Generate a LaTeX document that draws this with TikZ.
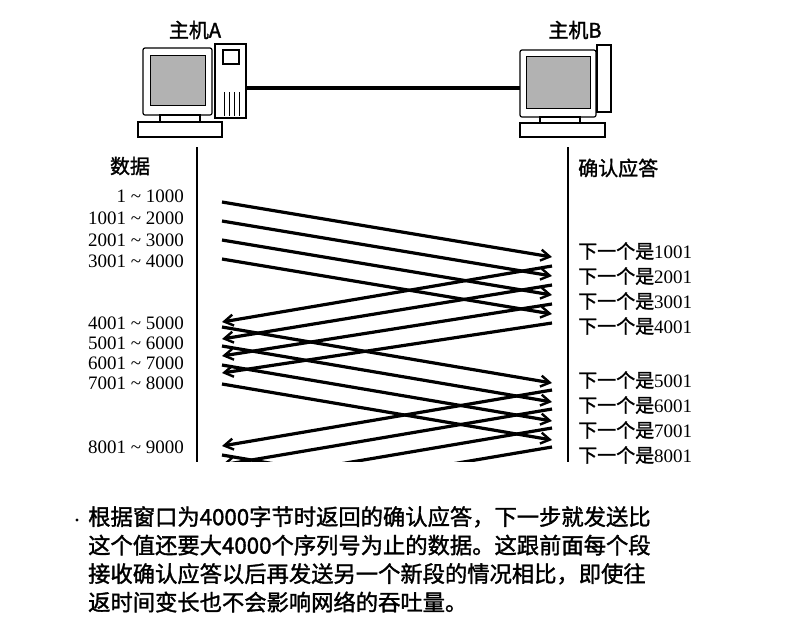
\documentclass[tikz,border=0pt]{standalone}
\usepackage{fontspec}
\setmainfont{Liberation Serif}
\newfontfamily\cjk[FakeBold=1.5]{Noto Sans CJK SC}
\usetikzlibrary{arrows.meta}
\begin{document}
\begin{tikzpicture}[x=1pt,y=-1pt,
  lbl/.style={font=\fontsize{19}{19}\selectfont, inner sep=0pt},
  ll/.style={lbl,anchor=east},
  rl/.style={lbl,anchor=west},
  msg/.style={line width=3.2pt,-{Straight Barb[length=9pt,width=11pt,line width=2.4pt]}},
  axis/.style={line width=2.5pt},
  pc/.style={draw,line width=1.2pt,fill=white}]
\useasboundingbox (0,0) rectangle (788,638);
% host A
\node[lbl,font=\cjk\fontsize{20}{20}\selectfont] (ta) at (195,30) {主机A};
\draw[pc,rounded corners=2pt] (143,48) rectangle (212,115);
\fill[gray!60,draw=black,line width=1pt] (150,55) rectangle (205,105);
\draw[pc] (215,44) rectangle (246,118);
\draw[pc] (223,50) rectangle (239,64);
\foreach \xx in {224,229,234,239} \draw[line width=0.8pt] (\xx,92)--(\xx,116);
\draw[pc] (160,115) rectangle (200,122);
\draw[pc] (138,122) rectangle (222,137);
\coordinate (aR) at (246,88);
% host B
\node[lbl,font=\cjk\fontsize{20}{20}\selectfont] (tb) at (575,30) {主机B};
\draw[pc,rounded corners=2pt] (520,50) rectangle (596,117);
\fill[gray!60,draw=black,line width=1pt] (526,56) rectangle (590,108);
\draw[pc] (597,45) rectangle (611,112);
\draw[pc] (540,117) rectangle (580,123);
\draw[pc] (520,123) rectangle (605,137);
\coordinate (bL) at (520,88);
\draw[line width=4pt] (aR)--(bL);
% axes
\coordinate (a0) at (197,147); \coordinate (a1) at (197,462);
\coordinate (b0) at (568,147); \coordinate (b1) at (568,462);
\draw[axis] (a0)--(a1); \draw[axis] (b0)--(b1);
% labels
\node[lbl,font=\cjk\fontsize{20}{20}\selectfont] (ld) at (130,166) {数据};
\node[lbl,font=\cjk\fontsize{20}{20}\selectfont,anchor=west] (rd) at (578,168) {确认应答};
\node[ll] (l1) at (184,196) {1 \char`~{} 1000};
\node[ll] (l2) at (184,218) {1001 \char`~{} 2000};
\node[ll] (l3) at (184,240) {2001 \char`~{} 3000};
\node[ll] (l4) at (184,261) {3001 \char`~{} 4000};
\node[ll] (l5) at (184,323) {4001 \char`~{} 5000};
\node[ll] (l6) at (184,343) {5001 \char`~{} 6000};
\node[ll] (l7) at (184,363) {6001 \char`~{} 7000};
\node[ll] (l8) at (184,383) {7001 \char`~{} 8000};
\node[ll] (l9) at (184,447) {8001 \char`~{} 9000};
\foreach \n/\yy/\v in {1/251/1001,2/276/2001,3/301/3001,4/326/4001,5/380/5001,6/405/6001,7/430/7001,8/455/8001}
  \node[rl] (r\n) at (578,\yy) {{\cjk 下一个是}\v};
% arrows
\begin{scope}
\clip (200,185) rectangle (560,461);
\foreach \i in {0,1,2,3}{
  \draw[msg] (222,202+19*\i) -- (552,257+19*\i);
  \draw[msg] (552,266+19*\i) -- (222,322+17*\i);
  \draw[msg] (222,327+19*\i) -- (552,383+19*\i);
  \draw[msg] (552,390+19*\i) -- (222,446+19*\i);
}
\draw[line width=3.2pt] (222,455) -- (552,511);
\end{scope}
% caption
\fill (77,520) circle (1.6pt);
\node[lbl,anchor=north west,align=left,font=\cjk\fontsize{22.3}{28.5}\selectfont] (cap) at (88,506)
{根据窗口为4000字节时返回的确认应答，下一步就发送比\\这个值还要大4000个序列号为止的数据。这跟前面每个段\\接收确认应答以后再发送另一个新段的情况相比，即使往\\返时间变长也不会影响网络的吞吐量。};
\end{tikzpicture}
\end{document}
